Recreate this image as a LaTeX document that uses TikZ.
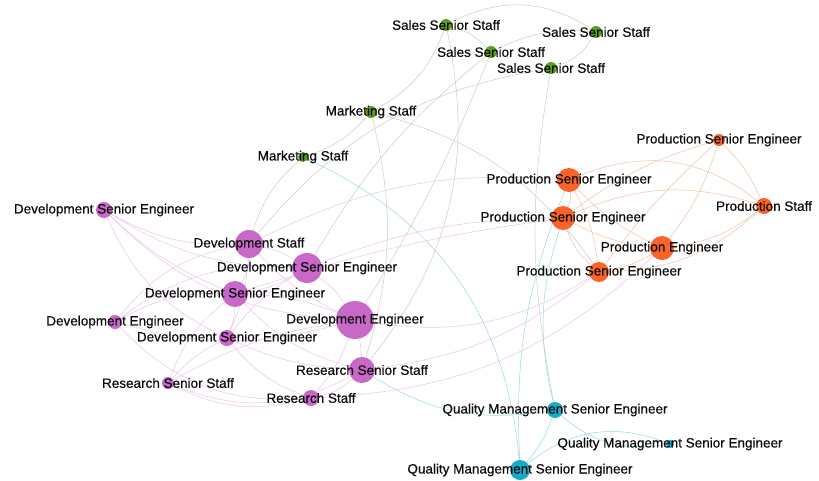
\documentclass[tikz,border=0pt]{standalone}
\usepackage{fontspec}
\setmainfont{Liberation Sans}
\newfontfamily\labelfont{Liberation Sans}[FakeBold=0.3]
\usetikzlibrary{backgrounds}

\definecolor{devcol}{RGB}{200,105,200}
\definecolor{prodcol}{RGB}{250,100,40}
\definecolor{salecol}{RGB}{90,160,30}
\definecolor{qualcol}{RGB}{25,170,200}
\definecolor{devline}{RGB}{232,198,232}
\definecolor{prodline}{RGB}{242,192,165}
\definecolor{saleline}{RGB}{208,203,192}
\definecolor{qualline}{RGB}{150,216,228}
\definecolor{labelcol}{RGB}{10,10,10}

\tikzset{
  member/.style={circle, inner sep=0pt, minimum size=#1},
  dev/.style={member=#1, fill=devcol},
  prod/.style={member=#1, fill=prodcol},
  sale/.style={member=#1, fill=salecol},
  qual/.style={member=#1, fill=qualcol},
  lbl/.style={text=labelcol, inner sep=0pt, font=\labelfont\fontsize{13.5}{15}\selectfont},
  devedge/.style={draw=devline, line width=0.5pt},
  prodedge/.style={draw=prodline, line width=0.5pt},
  saleedge/.style={draw=saleline, line width=0.5pt},
  qualedge/.style={draw=qualline, line width=0.5pt}
}

\begin{document}
\begin{tikzpicture}[x=1pt, y=-1pt]
  \useasboundingbox (0,0) rectangle (819,480);

  % sales and marketing
  \node[sale=12, label={[lbl]center:Sales Senior Staff}] (s1) at (446,25) {};
  \node[sale=12, label={[lbl]center:Sales Senior Staff}] (s2) at (491,52) {};
  \node[sale=12, label={[lbl]center:Sales Senior Staff}] (s3) at (596,32) {};
  \node[sale=12, label={[lbl]center:Sales Senior Staff}] (s4) at (551,68) {};
  \node[sale=12, label={[lbl]center:Marketing Staff}] (m1) at (371,112) {};
  \node[sale=10, label={[lbl]center:Marketing Staff}] (m2) at (303,157) {};

  % production
  \node[prod=12, label={[lbl]center:Production Senior Engineer}] (p1) at (719,140) {};
  \node[prod=24, label={[lbl]center:Production Senior Engineer}] (p2) at (569,180) {};
  \node[prod=24, label={[lbl]center:Production Senior Engineer}] (p3) at (563,218) {};
  \node[prod=16, label={[lbl]center:Production Staff}] (p4) at (764,206) {};
  \node[prod=24, label={[lbl]center:Production Engineer}] (p5) at (662,248) {};
  \node[prod=20, label={[lbl]center:Production Senior Engineer}] (p6) at (599,272) {};

  % development and research
  \node[dev=16, label={[lbl]center:Development Senior Engineer}] (d1) at (104,210) {};
  \node[dev=28, label={[lbl]center:Development Staff}] (d2) at (249,244) {};
  \node[dev=30, label={[lbl]center:Development Senior Engineer}] (d3) at (307,268) {};
  \node[dev=26, label={[lbl]center:Development Senior Engineer}] (d4) at (235,294) {};
  \node[dev=14, label={[lbl]center:Development Engineer}] (d5) at (115,322) {};
  \node[dev=38, label={[lbl]center:Development Engineer}] (d6) at (355,320) {};
  \node[dev=16, label={[lbl]center:Development Senior Engineer}] (d7) at (227,338) {};
  \node[dev=12, label={[lbl]center:Research Senior Staff}] (r1) at (168,383) {};
  \node[dev=26, label={[lbl]center:Research Senior Staff}] (r2) at (362,370) {};
  \node[dev=16, label={[lbl]center:Research Staff}] (r3) at (311,398) {};

  % quality management
  \node[qual=16, label={[lbl]center:Quality Management Senior Engineer}] (q1) at (555,410) {};
  \node[qual=8, label={[lbl]center:Quality Management Senior Engineer}] (q2) at (670,444) {};
  \node[qual=20, label={[lbl]center:Quality Management Senior Engineer}] (q3) at (520,470) {};

  \begin{scope}[on background layer]
    \fill[white] (0,0) rectangle (819,480);
    \foreach \a/\b/\c in {s1/s3/30, s1/s2/15, s2/s3/15, s4/s3/-20, s1/m1/20, m1/m2/15,
        m2/d2/-15, m1/r2/15, m1/p6/20, s1/r2/25, s4/q1/-10, s2/d6/5, s4/d2/-20, s2/d3/-10}
      \draw[saleedge] (\a) to[bend left=\c] (\b);
    \foreach \a/\b/\c in {p1/p4/10, p1/p5/10, p1/p3/-10, p1/p6/-5, p2/p4/30, p3/p4/20,
        p2/p3/15, p2/p5/-10, p2/p6/10, p3/p5/-10, p3/p6/-15, p5/p6/10, p4/p5/15, p6/p4/-20}
      \draw[prodedge] (\a) to[bend left=\c] (\b);
    \foreach \a/\b/\c in {q1/q2/-25, q3/q2/30, q1/q3/10, q1/p3/15, q3/p2/12, r2/q1/-20, m2/q3/30}
      \draw[qualedge] (\a) to[bend left=\c] (\b);
    \foreach \a/\b/\c in {d1/d2/-15, d1/d3/-15, d1/d4/-10, d1/d6/-20, d1/d7/-20,
        d2/d3/10, d2/d4/15, d2/d6/-10, d2/d7/10, d3/d4/10, d3/d6/10, d3/d7/-10,
        d4/d5/-15, d4/d6/10, d4/d7/10, d4/r2/-15, d5/d3/20, d5/d6/-15, d5/d2/20,
        d6/r2/5, d6/r3/10, d7/r1/-10, d7/r3/-15, d7/r2/-10, r1/r3/-20, r1/r2/-25,
        r1/d4/15, r3/r2/-15, r1/d6/10, d5/r3/-25,
        d3/p3/10, d2/p2/15, d6/p6/-20, r3/p5/-20, r2/p6/-15, d4/p3/5}
      \draw[devedge] (\a) to[bend left=\c] (\b);
  \end{scope}
\end{tikzpicture}
\end{document}
